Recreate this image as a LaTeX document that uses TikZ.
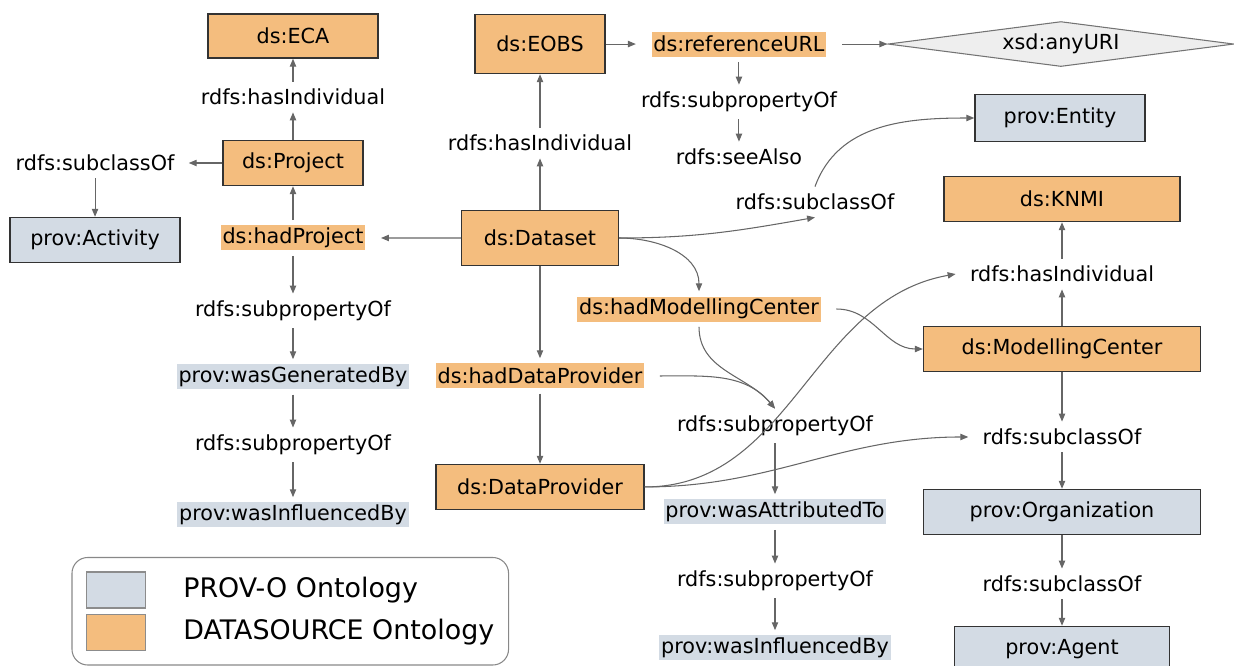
\documentclass[tikz,border=0pt]{standalone}
\usepackage{fontspec}
\setmainfont{DejaVu Sans}
\usepackage{tikz}
\usetikzlibrary{arrows.meta, positioning, shapes.geometric, fit}
\definecolor{dsfill}{HTML}{F4BD7E}
\definecolor{provfill}{HTML}{D3DBE4}
\definecolor{typefill}{HTML}{EEEEEE}
\definecolor{boxdraw}{HTML}{333333}
\definecolor{arrowgray}{HTML}{666666}
\definecolor{legenddraw}{HTML}{888888}
\newcommand{\lblfont}{\fontsize{11.8pt}{14pt}\selectfont}
\tikzset{
    classbox/.style={
        rectangle, draw=boxdraw, fill=#1, line width=0.8pt,
        font=\lblfont, text=black, inner sep=0pt, minimum height=0.9cm
    },
    classbox/.default=dsfill,
    propbox/.style={
        rectangle, fill=#1, font=\lblfont, text=black,
        inner xsep=1pt, inner ysep=0pt, minimum height=0.5cm,
        outer xsep=9pt, outer ysep=3pt
    },
    propbox/.default=dsfill,
    rdfslab/.style={
        font=\lblfont, text=black, inner xsep=8pt, inner ysep=4pt
    },
    typenode/.style={
        diamond, aspect=7.7, draw=black!55, fill=typefill, line width=0.6pt,
        font=\lblfont, inner sep=0pt, minimum width=6.92cm, minimum height=0.9cm
    },
    relarrow/.style={
        -{Triangle[length=4.5pt, width=3.6pt]}, draw=arrowgray, line width=0.6pt
    },
    legendkey/.style={
        rectangle, draw=black!45, fill=#1, line width=0.6pt,
        minimum width=1.18cm, minimum height=0.72cm
    },
    legendkey/.default=provfill,
    legendtext/.style={
        font=\fontsize{15.3pt}{18pt}\selectfont, text=black, inner sep=0pt, anchor=west
    },
    legendbox/.style={
        rectangle, rounded corners=9pt, draw=legenddraw, line width=0.6pt, inner sep=0.28cm
    },
}

\begin{document}
\begin{tikzpicture}[x=0.02cm, y=-0.02cm, on grid]
    \useasboundingbox (0,0) rectangle (1234,666);

    % Left column: project branch
    \node[classbox, minimum width=2.8cm] (project) at (293,163) {ds:Project};
    \node[rdfslab, above=1.32cm of project] (indivleft) {rdfs:hasIndividual};
    \node[classbox, minimum width=3.4cm, minimum height=0.88cm, above=1.22cm of indivleft] (eca) {ds:ECA};
    \node[rdfslab, left=3.96cm of project] (subclleft) {rdfs:subclassOf};
    \node[classbox=provfill, minimum width=3.4cm, below=1.54cm of subclleft] (activity) {prov:Activity};
    \node[propbox, below=1.5cm of project] (hadproject) {ds:hadProject};
    \node[rdfslab, below=1.46cm of hadproject] (subpropleft) {rdfs:subpropertyOf};
    \node[propbox=provfill, below=1.32cm of subpropleft] (wasgenerated) {prov:wasGeneratedBy};
    \node[rdfslab, below=1.36cm of wasgenerated] (subpropleftb) {rdfs:subpropertyOf};
    \node[propbox=provfill, below=1.4cm of subpropleftb] (influencedleft) {prov:wasInfluencedBy};

    % Middle column: dataset branch
    \node[classbox, minimum width=3.14cm, minimum height=1.1cm] (dataset) at (540,238) {ds:Dataset};
    \node[rdfslab, above=1.9cm of dataset] (indivmid) {rdfs:hasIndividual};
    \node[classbox, minimum width=2.6cm, minimum height=1.18cm, above=1.98cm of indivmid] (eobs) {ds:EOBS};
    \node[propbox, below=2.76cm of dataset] (haddataprov) {ds:hadDataProvider};
    \node[classbox, minimum width=4.16cm, below=2.22cm of haddataprov] (dataprov) {ds:DataProvider};

    % Reference URL
    \node[propbox, right=3.98cm of eobs] (refurl) {ds:referenceURL};
    \node[typenode, right=6.44cm of refurl] (anyuri) {xsd:anyURI};
    \node[rdfslab, below=1.16cm of refurl] (subproptop) {rdfs:subpropertyOf};
    \node[rdfslab, below=1.1cm of subproptop] (seealso) {rdfs:seeAlso};

    \node[rdfslab] (subclmid) at (815,202) {rdfs:subclassOf};
    \node[classbox=provfill, minimum width=3.4cm, minimum height=0.94cm] (entity) at (1060,118) {prov:Entity};
    \node[propbox] (hadmodel) at (699,309) {ds:hadModellingCenter};

    % Attribution chain
    \node[rdfslab] (subpropmid) at (775,426) {rdfs:subpropertyOf};
    \node[propbox=provfill, below=1.72cm of subpropmid] (attributed) {prov:wasAttributedTo};
    \node[rdfslab, below=1.38cm of attributed] (subpropmidb) {rdfs:subpropertyOf};
    \node[propbox=provfill, below=1.34cm of subpropmidb] (influencedmid) {prov:wasInfluencedBy};

    % Right column: modelling center branch
    \node[classbox, minimum width=5.54cm] (modelcenter) at (1062,349) {ds:ModellingCenter};
    \node[rdfslab, above=1.5cm of modelcenter] (indivright) {rdfs:hasIndividual};
    \node[classbox, minimum width=4.72cm, above=1.5cm of indivright] (knmi) {ds:KNMI};
    \node[rdfslab, below=1.76cm of modelcenter] (subclright) {rdfs:subclassOf};
    \node[classbox=provfill, minimum width=5.54cm, below=1.5cm of subclright] (organization) {prov:Organization};
    \node[rdfslab, below=1.44cm of organization] (subclrightb) {rdfs:subclassOf};
    \node[classbox=provfill, minimum width=4.3cm, below=1.3cm of subclrightb] (agent) {prov:Agent};

    % Legend
    \node[legendkey=provfill] (keyprov) at (116,590) {};
    \node[legendkey=dsfill, below=0.85cm of keyprov] (keyds) {};
    \node[legendtext] (txtprov) at (183,590) {PROV-O Ontology};
    \node[legendtext] (txtds) at (183,632) {DATASOURCE Ontology};
    \node[legendbox, fit=(keyprov)(keyds)(txtds)] (legend) {};

    % Arrows left column
    \draw[relarrow] (project) -- (indivleft);
    \draw[relarrow] (indivleft) -- (eca);
    \draw[relarrow] (project) -- (subclleft);
    \draw[relarrow] (subclleft) -- (activity);
    \draw[relarrow] (hadproject) -- (project);
    \draw[relarrow] (hadproject) -- (subpropleft);
    \draw[relarrow] (subpropleft) -- (wasgenerated);
    \draw[relarrow] (wasgenerated) -- (subpropleftb);
    \draw[relarrow] (subpropleftb) -- (influencedleft);

    % Arrows middle column
    \draw[relarrow] (dataset) -- (hadproject);
    \draw[relarrow] (dataset) -- (indivmid);
    \draw[relarrow] (indivmid) -- (eobs);
    \draw[relarrow] (eobs) -- (refurl);
    \draw[relarrow] (refurl) -- (anyuri);
    \draw[relarrow] (refurl) -- (subproptop);
    \draw[relarrow] (subproptop) -- (seealso);
    \draw[relarrow] (dataset) -- (haddataprov);
    \draw[relarrow] (haddataprov) -- (dataprov);

    % Curved arrows
    \draw[relarrow] (dataset.east) to[out=0, in=190] (subclmid.south);
    \draw[relarrow] (subclmid.north) to[out=70, in=180] (entity.west);
    \draw[relarrow] (dataset.east) to[out=0, in=90] (hadmodel.north);
    \draw[relarrow] (hadmodel.east) to[out=0, in=180] (modelcenter.west);
    \draw[relarrow] (hadmodel.south) to[out=-90, in=130] (subpropmid.north);
    \draw[relarrow] (haddataprov.east) to[out=0, in=130] (subpropmid.north);
    \draw[relarrow] (dataprov.east) to[out=0, in=190] (indivright.west);
    \draw[relarrow] (dataprov.east) to[out=0, in=180] (subclright.west);

    % Arrows attribution chain
    \draw[relarrow] (subpropmid) -- (attributed);
    \draw[relarrow] (attributed) -- (subpropmidb);
    \draw[relarrow] (subpropmidb) -- (influencedmid);

    % Arrows right column
    \draw[relarrow] (modelcenter) -- (indivright);
    \draw[relarrow] (indivright) -- (knmi);
    \draw[relarrow] (modelcenter) -- (subclright);
    \draw[relarrow] (subclright) -- (organization);
    \draw[relarrow] (organization) -- (subclrightb);
    \draw[relarrow] (subclrightb) -- (agent);

\end{tikzpicture}
\end{document}
